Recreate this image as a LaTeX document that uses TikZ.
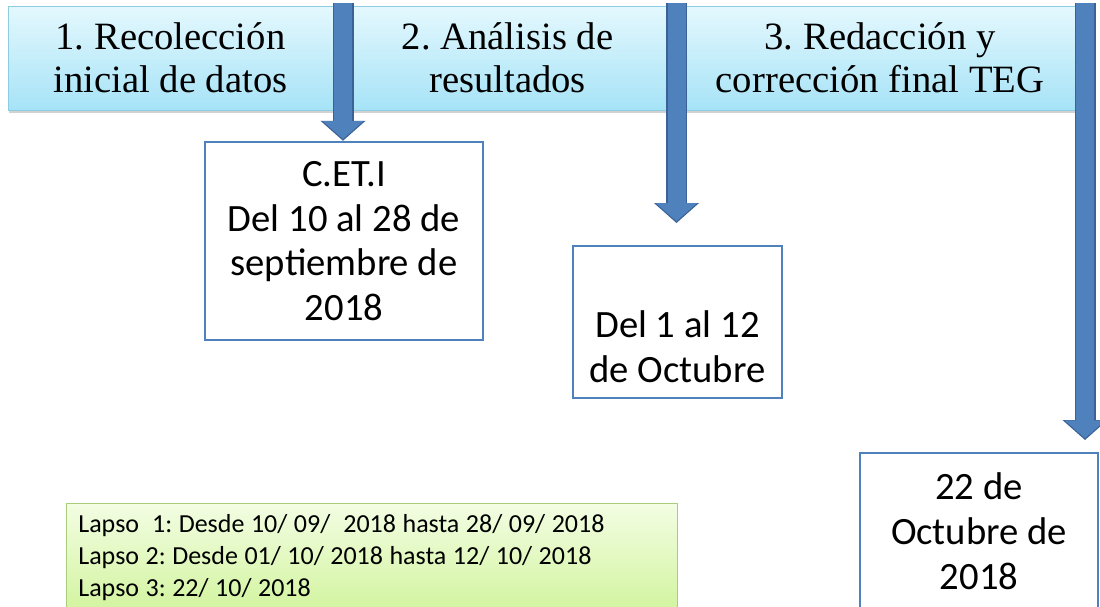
\documentclass[tikz,border=0pt]{standalone}
\usepackage{fontspec}
\setmainfont{Liberation Serif}
\newfontfamily\carlito{Carlito}
\usetikzlibrary{arrows.meta,shadows}

% colores
\definecolor{celeste}{HTML}{A6E3F7}
\definecolor{celesteclaro}{HTML}{E4F8FE}
\definecolor{bordeceleste}{HTML}{8ECDE1}
\definecolor{azul}{HTML}{4F81BD}
\definecolor{azuloscuro}{HTML}{3A6296}
\definecolor{verde}{HTML}{D2F49F}
\definecolor{verdeclaro}{HTML}{F3FDE3}
\definecolor{bordeverde}{HTML}{A8CE7C}

\tikzset{
  etapa/.style={draw=bordeceleste, top color=celesteclaro, bottom color=celeste,
    minimum height=2.08cm, inner sep=0pt, align=center,
    font=\fontsize{22}{24.4}\selectfont,
    drop shadow={shadow xshift=0.6pt, shadow yshift=-1.6pt, opacity=0.35}},
  fecha/.style={draw=azul, line width=1.4pt, fill=white, align=center,
    font=\carlito\fontsize{22}{25.5}\selectfont},
  flecha/.style={draw=azul, line width=0.36cm,
    -{Triangle[width=0.80cm, length=0.36cm]}, shorten >=1pt,
    preaction={draw=azuloscuro, line width=0.42cm,
      -{Triangle[width=0.88cm, length=0.40cm]}, shorten >=0pt}},
  lapsos/.style={draw=bordeverde, top color=verdeclaro, bottom color=verde,
    align=left, text width=11.74cm, inner xsep=0.24cm, inner ysep=0.22cm,
    font=\carlito\fontsize{14.8}{18.1}\selectfont}
}

\begin{document}
\frenchspacing
\begin{tikzpicture}

    \clip (0,0) rectangle (22,-12.12);
    \fill[white] (0,0) rectangle (22,-12.12);

    % Etapas (cajas celestes)
    \node[etapa, minimum width=6.5cm] (etapa1) at (3.41,-1.16) {1. Recolección\\inicial de datos};
    \node[etapa, minimum width=6.5cm] (etapa2) at (10.15,-1.16) {2. Análisis de\\resultados};
    \node[etapa, minimum width=8.0cm] (etapa3) at (17.6,-1.16) {3. Redacción y\\corrección final TEG};

    % Cajas de fechas
    \node[fecha, minimum width=5.56cm, minimum height=3.96cm] (cet) at (6.88,-4.82)
        {C.ET.I\\Del 10 al 28 de\\septiembre de\\2018};
    \node[fecha, minimum width=4.18cm, minimum height=3.04cm] (oct) at (13.55,-6.44) {};
    \node[align=center, font=\carlito\fontsize{22}{25.5}\selectfont] (octtxt)
        at ([yshift=1.05cm]oct.south) {Del 1 al 12\\de Octubre};
    \node[fecha, minimum width=4.76cm, minimum height=3.12cm] (fin) at (19.58,-10.62)
        {22 de\\Octubre de\\2018};

    % Flechas
    \coordinate (ini1) at (6.86,-0.06);
    \coordinate (ini2) at (13.53,-0.06);
    \coordinate (fin2) at (13.53,-4.46);
    \coordinate (ini3) at (21.70,-0.06);
    \coordinate (fin3) at (21.70,-8.80);
    \draw[flecha] (ini1) -- (ini1 |- cet.north);
    \draw[flecha] (ini2) -- (fin2);
    \draw[flecha] (ini3) -- (fin3);

    % Lapsos
    \node[lapsos, anchor=north west] (lapso) at (1.32,-10.06)
        {\spaceskip=0.25em\relax
         Lapso\ \ 1: Desde 10/ 09/\ \ 2018 hasta 28/ 09/ 2018\\
         Lapso 2: Desde 01/ 10/ 2018 hasta 12/ 10/ 2018\\
         Lapso 3: 22/ 10/ 2018};

\end{tikzpicture}
\end{document}
